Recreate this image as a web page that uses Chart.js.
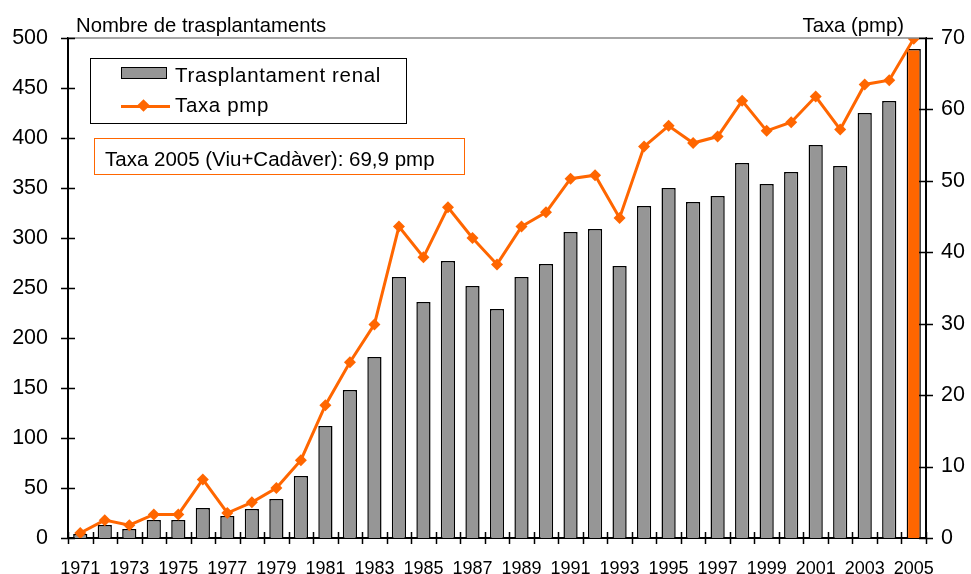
<!DOCTYPE html>
<html>
<head>
<meta charset="utf-8">
<script src="https://cdn.jsdelivr.net/npm/chart.js@4"></script>
<style>
  html, body { margin: 0; padding: 0; background: #fff; }
  body { width: 971px; height: 574px; position: relative; overflow: hidden; font-family: "Liberation Sans", Arial, sans-serif; color: #000; }
  #wrap { position: absolute; left: 0; top: 0; width: 971px; height: 574px; }
  .txt { position: absolute; white-space: nowrap; line-height: 20px; }
  #leftTitle { left: 76px; top: 15px; font-size: 20.3px; }
  #rightTitle { right: 67px; top: 15px; font-size: 20.3px; }
  .box { position: absolute; box-sizing: border-box; }
  #legend { left: 90px; top: 58px; width: 317px; height: 66px; border: 1.5px solid #000; }
  #note { left: 94px; top: 138px; width: 371px; height: 37px; border: 1.5px solid #ff6600; }
  .swBar { position: absolute; left: 121px; top: 67px; width: 46px; height: 12px; box-sizing: border-box; background: #969696; border: 1.5px solid #000; }
  .swLine { position: absolute; left: 121px; top: 105px; width: 49px; height: 3px; background: #ff6600; }
  .swLine i { position: absolute; left: 18px; top: -4px; width: 9px; height: 9px; background: #ff6600; transform: rotate(45deg); }
  .leg { font-size: 20.5px; }
  .wide { letter-spacing: 0.65px; }
</style>
</head>
<body>
<div id="wrap"><canvas id="chart" width="971" height="574"></canvas></div>
<div class="txt" id="leftTitle">Nombre de trasplantaments</div>
<div class="txt" id="rightTitle">Taxa (pmp)</div>
<div class="box" id="legend"></div>
<div class="swBar"></div>
<div class="txt leg wide" style="left:175px; top:65px">Trasplantament renal</div>
<div class="swLine"><i></i></div>
<div class="txt leg wide" style="left:175px; top:95px">Taxa pmp</div>
<div class="box" id="note"></div>
<div class="txt leg" style="left:105px; top:149px">Taxa 2005 (Viu+Cadàver): 69,9 pmp</div>
<script>
const years = ['1971','1972','1973','1974','1975','1976','1977','1978','1979','1980',
  '1981','1982','1983','1984','1985','1986','1987','1988','1989','1990',
  '1991','1992','1993','1994','1995','1996','1997','1998','1999','2000',
  '2001','2002','2003','2004','2005'];

const transplants = [4, 13, 9, 18, 18, 30, 22, 29, 39, 62,
  112, 148, 181, 261, 236, 277, 252, 229, 261, 274,
  306, 309, 272, 332, 350, 336, 342, 375, 354, 366,
  393, 372, 425, 437, 489];

const ratePmp = [0.7, 2.5, 1.8, 3.3, 3.3, 8.2, 3.5, 5.0, 7.0, 10.9,
  18.6, 24.6, 29.9, 43.6, 39.3, 46.3, 42.0, 38.3, 43.6, 45.6,
  50.3, 50.8, 44.8, 54.8, 57.7, 55.3, 56.2, 61.2, 57.0, 58.2,
  61.8, 57.2, 63.5, 64.1, 69.9];

const leftTicks = [0, 50, 100, 150, 200, 250, 300, 350, 400, 450, 500];
const rightTicks = [0, 10, 20, 30, 40, 50, 60, 70];

const GRAY = '#969696';
const ORANGE = '#ff6600';
const FONT = '"Liberation Sans", Arial, sans-serif';

const barColors = years.map((y, i) => i === years.length - 1 ? ORANGE : GRAY);

// axis ticks that cross the axis lines, plus the grey top border
const axisMarks = {
  id: 'axisMarks',
  afterDraw(chart) {
    const ctx = chart.ctx;
    const area = chart.chartArea;
    const y = chart.scales.y, y2 = chart.scales.y2;
    ctx.save();
    ctx.strokeStyle = '#888';
    ctx.lineWidth = 1.5;
    ctx.beginPath();
    ctx.moveTo(area.left, area.top);
    ctx.lineTo(area.right, area.top);
    ctx.stroke();

    ctx.strokeStyle = '#000';
    ctx.lineWidth = 1.5;
    ctx.beginPath();
    leftTicks.forEach(v => {
      const py = Math.round(y.getPixelForValue(v)) + 0.5;
      ctx.moveTo(area.left - 7, py);
      ctx.lineTo(area.left + 7, py);
    });
    rightTicks.forEach(v => {
      const py = Math.round(y2.getPixelForValue(v)) + 0.5;
      ctx.moveTo(area.right - 7, py);
      ctx.lineTo(area.right + 7, py);
    });
    const step = (area.right - area.left) / years.length;
    for (let i = 0; i <= years.length; i++) {
      const px = Math.round(area.left + i * step) + 0.5;
      ctx.moveTo(px, area.bottom - 6);
      ctx.lineTo(px, area.bottom + 6);
    }
    ctx.stroke();
    ctx.restore();
  }
};

new Chart(document.getElementById('chart'), {
  data: {
    labels: years,
    datasets: [
      {
        type: 'line',
        label: 'Taxa pmp',
        data: ratePmp,
        yAxisID: 'y2',
        borderColor: ORANGE,
        backgroundColor: ORANGE,
        borderWidth: 3,
        pointStyle: 'rectRot',
        pointRadius: 6,
        pointBorderWidth: 0,
        tension: 0,
        order: 0
      },
      {
        type: 'bar',
        label: 'Trasplantament renal',
        data: transplants,
        yAxisID: 'y',
        backgroundColor: barColors,
        borderColor: '#000',
        borderWidth: 1.5,
        barPercentage: 0.58,
        categoryPercentage: 1,
        order: 1
      }
    ]
  },
  options: {
    responsive: false,
    animation: false,
    layout: { padding: { top: 38, left: 0, right: 0, bottom: 0 } },
    plugins: { legend: { display: false }, tooltip: { enabled: false } },
    scales: {
      x: {
        grid: { display: false, drawTicks: false },
        border: { display: true, color: '#000', width: 2 },
        ticks: {
          autoSkip: false,
          maxRotation: 0,
          padding: 20,
          color: '#000',
          font: { family: FONT, size: 18 },
          callback: function (v, i) { return i % 2 === 0 ? years[i] : ''; }
        },
        afterFit(s) { s.height = 36; }
      },
      y: {
        position: 'left',
        min: 0, max: 500,
        grid: { display: false, drawTicks: false },
        border: { display: true, color: '#000', width: 2 },
        ticks: { stepSize: 50, padding: 20, color: '#000', font: { family: FONT, size: 21.5 } },
        afterFit(s) { s.width = 68; }
      },
      y2: {
        position: 'right',
        min: 0, max: 70,
        grid: { display: false, drawTicks: false },
        border: { display: true, color: '#000', width: 2 },
        ticks: { stepSize: 10, padding: 15, color: '#000', font: { family: FONT, size: 21.5 } },
        afterFit(s) { s.width = 45; }
      }
    }
  },
  plugins: [axisMarks]
});
</script>
</body>
</html>
